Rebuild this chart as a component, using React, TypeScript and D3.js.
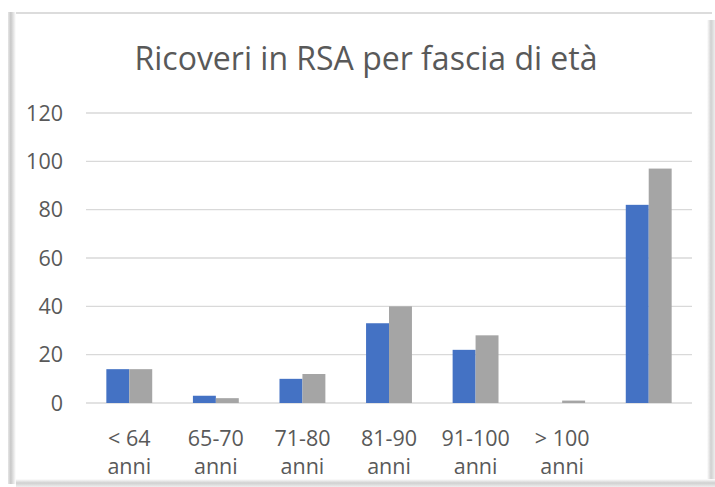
import React from "react";
import * as d3 from "d3";

const categories = ["< 64|anni", "65-70|anni", "71-80|anni", "81-90|anni", "91-100|anni", "> 100|anni", ""];
const seriesA = [14, 3, 10, 33, 22, 0, 82];
const seriesB = [14, 2, 12, 40, 28, 1, 97];
const yTicks = [0, 20, 40, 60, 80, 100, 120];
const titleText = "Ricoveri in RSA per fascia di età";

const W = 715;
const H = 487;
const FONT = "'Open Sans', sans-serif";
const TEXT = "#595959";

export default function App() {
  const x = d3
    .scaleBand<number>()
    .domain(categories.map((_, i) => i))
    .range([86, 692])
    .paddingInner(0.47)
    .paddingOuter(0.235);
  const inner = d3.scaleBand<number>().domain([0, 1]).range([0, x.bandwidth()]);
  const y = d3.scaleLinear().domain([0, 120]).range([403, 113]);
  const series = [
    { values: seriesA, color: "#4472C4" },
    { values: seriesB, color: "#A5A5A5" },
  ];

  return (
    <svg width={W} height={H} style={{ position: "absolute", left: 0, top: 0, background: "#fff" }}>
      <defs>
        <linearGradient id="gl" x1="0" x2="1" y1="0" y2="0">
          <stop offset="0" stopColor="#e6e6e6" />
          <stop offset="0.35" stopColor="#c8c8c8" />
          <stop offset="1" stopColor="#ffffff" />
        </linearGradient>
        <linearGradient id="gr" x1="0" x2="1" y1="0" y2="0">
          <stop offset="0" stopColor="#ffffff" />
          <stop offset="0.5" stopColor="#d0d0d0" />
          <stop offset="1" stopColor="#eeeeee" />
        </linearGradient>
        <linearGradient id="gb" x1="0" x2="0" y1="0" y2="1">
          <stop offset="0" stopColor="#ffffff" />
          <stop offset="0.5" stopColor="#d0d0d0" />
          <stop offset="1" stopColor="#eeeeee" />
        </linearGradient>
      </defs>
      <rect x={0} y={0} width={W} height={H} fill="#fff" />
      <rect x={8} y={12} width={704} height={2} fill="#dcdcdc" />
      <rect x={8} y={12} width={8} height={472} fill="url(#gl)" />
      <rect x={707} y={20} width={8} height={467} fill="url(#gr)" />
      <rect x={16} y={479} width={699} height={8} fill="url(#gb)" />

      <text x={366} y={70} textAnchor="middle" fontFamily={FONT} fontSize={32} fill={TEXT}>
        {titleText}
      </text>

      {yTicks.map((t) => (
        <g key={t}>
          <line x1={86} x2={692} y1={y(t)} y2={y(t)} stroke="#d9d9d9" strokeWidth={1.3} />
          <text x={63} y={y(t)} dy="0.36em" textAnchor="end" fontFamily={FONT} fontSize={21.5} fill={TEXT}>
            {t}
          </text>
        </g>
      ))}

      {series.map((s, si) =>
        s.values.map((v, i) => (
          <rect
            key={`${si}-${i}`}
            x={(x(i) ?? 0) + (inner(si) ?? 0)}
            y={y(v)}
            width={inner.bandwidth()}
            height={y(0) - y(v)}
            fill={s.color}
          />
        ))
      )}

      {categories.map((c, i) => {
        const cx = (x(i) ?? 0) + x.bandwidth() / 2;
        const lines = c ? c.split("|") : [];
        return (
          <text key={i} textAnchor="middle" fontFamily={FONT} fontSize={21.5} fill={TEXT}>
            {lines.map((l, li) => (
              <tspan key={li} x={cx} y={446 + li * 27.5}>
                {l}
              </tspan>
            ))}
          </text>
        );
      })}
    </svg>
  );
}
